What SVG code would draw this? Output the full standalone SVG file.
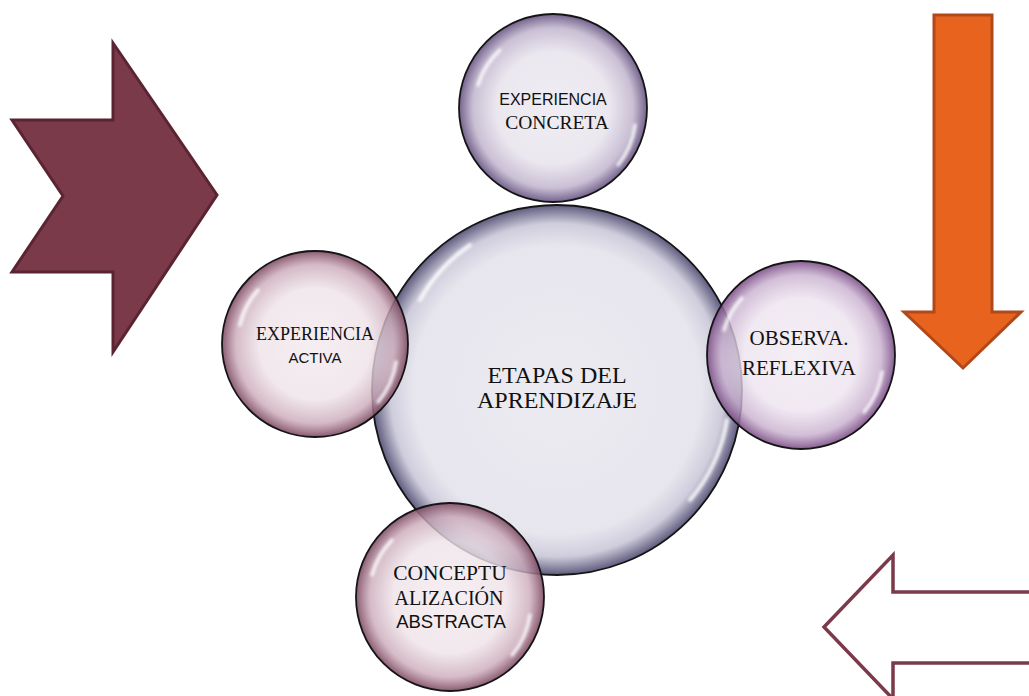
<svg xmlns="http://www.w3.org/2000/svg" width="1029" height="696" viewBox="0 0 1029 696">
<style>
.serif{font-family:"Liberation Serif","Times New Roman",serif;fill:#111;text-anchor:middle}
.sans{font-family:"Liberation Sans",Arial,sans-serif;fill:#111;text-anchor:middle}
.rim{stroke:#151515;stroke-width:1.8}
.gloss{fill:none;stroke:#fff;stroke-linecap:round;opacity:0.85;filter:url(#blur)}
</style>
<defs>
<filter id="blur" x="-20%" y="-20%" width="140%" height="140%"><feGaussianBlur stdDeviation="1.6"/></filter>
<radialGradient id="gMain" cx="50%" cy="50%" r="50%">
<stop offset="0" stop-color="#ECEBF1"/>
<stop offset="0.78" stop-color="#E7E6EE"/>
<stop offset="0.9" stop-color="#CFCDDC"/>
<stop offset="1" stop-color="#5F5B7E"/>
</radialGradient>
<radialGradient id="gTop" cx="50%" cy="50%" r="50%">
<stop offset="0" stop-color="#EEEBF2" stop-opacity="0.92"/>
<stop offset="0.6" stop-color="#E9E5EE" stop-opacity="0.92"/>
<stop offset="0.85" stop-color="#C4B9D0" stop-opacity="0.9"/>
<stop offset="1" stop-color="#6C5A86" stop-opacity="0.95"/>
</radialGradient>
<radialGradient id="gMauve" cx="50%" cy="50%" r="50%">
<stop offset="0" stop-color="#F3EAEE" stop-opacity="0.8"/>
<stop offset="0.6" stop-color="#EEE2E8" stop-opacity="0.8"/>
<stop offset="0.85" stop-color="#CBAAB9" stop-opacity="0.8"/>
<stop offset="1" stop-color="#7E4A62" stop-opacity="0.9"/>
</radialGradient>
<radialGradient id="gPurple" cx="50%" cy="50%" r="50%">
<stop offset="0" stop-color="#F1EAF2" stop-opacity="0.8"/>
<stop offset="0.6" stop-color="#EDE3EF" stop-opacity="0.8"/>
<stop offset="0.85" stop-color="#C8AFCE" stop-opacity="0.8"/>
<stop offset="1" stop-color="#7A4C86" stop-opacity="0.9"/>
</radialGradient>
</defs>

<g id="arrow-chevron">
<polygon points="12,120 113,120 113,43 217,195 113,352 113,272 12,272 63,196" fill="#7B3A49" stroke="#5A2432" stroke-width="3" stroke-linejoin="miter"/>
</g>
<g id="arrow-down">
<polygon points="934,15 992,15 992,312 1021,312 963,368 904,312 934,312" fill="#E8641E" stroke="#B1481A" stroke-width="3"/>
</g>
<g id="arrow-left">
<polygon points="1032,592 893,592 893,555 824,627 893,699 893,663 1032,663" fill="#fff" stroke="#7B3A49" stroke-width="3.5"/>
</g>

<g id="connectors"></g>

<g id="node-center">
<circle cx="557" cy="390" r="185" fill="url(#gMain)" class="rim"/>
<path d="M 420 300 A 160 160 0 0 1 470 245" class="gloss" stroke-width="4"/>
<path d="M 727 420 A 165 165 0 0 1 690 500" class="gloss" stroke-width="4"/>
<text class="serif" x="557" y="383" font-size="24">ETAPAS DEL</text>
<text class="serif" x="557" y="408" font-size="24">APRENDIZAJE</text>
</g>

<g id="node-top">
<circle cx="553" cy="108" r="94" fill="url(#gTop)" class="rim"/>
<path d="M 478 85 A 80 80 0 0 1 500 50" class="gloss" stroke-width="3.5"/>
<path d="M 635 125 A 80 80 0 0 1 618 165" class="gloss" stroke-width="3.5"/>
<text class="sans" x="553" y="105" font-size="16">EXPERIENCIA</text>
<text class="serif" x="557" y="129" font-size="19.5">CONCRETA</text>
</g>

<g id="node-left">
<circle cx="315" cy="344" r="93" fill="url(#gMauve)" class="rim"/>
<path d="M 240 325 A 78 78 0 0 1 258 290" class="gloss" stroke-width="3.5"/>
<path d="M 396 362 A 80 80 0 0 1 378 402" class="gloss" stroke-width="3.5"/>
<text class="serif" x="315" y="340" font-size="18">EXPERIENCIA</text>
<text class="sans" x="315" y="363" font-size="15">ACTIVA</text>
</g>

<g id="node-right">
<circle cx="801" cy="355" r="94" fill="url(#gPurple)" class="rim"/>
<path d="M 724 330 A 80 80 0 0 1 742 298" class="gloss" stroke-width="3.5"/>
<path d="M 882 372 A 80 80 0 0 1 864 412" class="gloss" stroke-width="3.5"/>
<text class="serif" x="799" y="345" font-size="21">OBSERVA.</text>
<text class="serif" x="799" y="375" font-size="21">REFLEXIVA</text>
</g>

<g id="node-bottom">
<circle cx="450" cy="597" r="94" fill="url(#gMauve)" class="rim"/>
<path d="M 372 575 A 80 80 0 0 1 392 540" class="gloss" stroke-width="3.5"/>
<path d="M 530 615 A 80 80 0 0 1 512 655" class="gloss" stroke-width="3.5"/>
<text class="serif" x="450" y="580" font-size="21.5">CONCEPTU</text>
<text class="serif" x="449" y="605" font-size="20">ALIZACIÓN</text>
<text class="sans" x="451" y="628" font-size="18.5">ABSTRACTA</text>
</g>
</svg>
